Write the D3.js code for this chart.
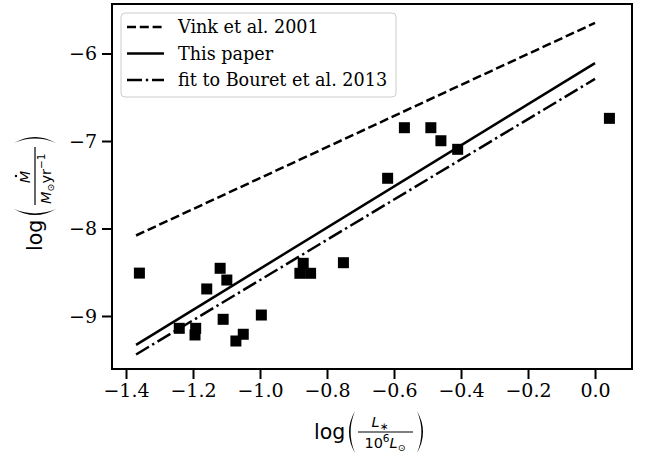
<!DOCTYPE html>
<html><head><meta charset="utf-8">
<script src="https://cdn.jsdelivr.net/npm/d3@7/dist/d3.min.js"></script>
<style>body{margin:0;background:#fff}svg{display:block}</style>
</head><body>
<svg id="c" width="647" height="457"></svg>
<script>
// ---- data ----
const logL = [-1.36,-1.119,-1.099,-1.159,-0.996,-1.110,-1.241,-1.192,-1.194,-1.050,-1.072,-0.871,-0.881,-0.849,-0.751,-0.619,-0.569,-0.490,-0.460,-0.410,0.043];
const logMdot = [-8.51,-8.455,-8.589,-8.691,-8.989,-9.038,-9.141,-9.141,-9.217,-9.209,-9.286,-8.398,-8.512,-8.512,-8.391,-7.426,-6.848,-6.848,-6.997,-7.095,-6.741];
const fitX = [-1.37, 0.0];
const vink = [-8.08, -5.65];
const thisPaper = [-9.33, -6.11];
const bouret = [-9.44, -6.29];
const seriesNames = ["Vink et al. 2001", "This paper", "fit to Bouret et al. 2013"];
const xTicks = [-1.4, -1.2, -1.0, -0.8, -0.6, -0.4, -0.2, 0.0];
const yTicks = [-9, -8, -7, -6];

// ---- layout ----
const L = 112, R = 632, T = 4, B = 369;
const svg = d3.select("#c");
const x = d3.scaleLinear().domain([-1.4418, 0.1104]).range([L, R]);
const y = d3.scaleLinear().domain([-9.606, -5.434]).range([B, T]);
const serif = "'DejaVu Serif', serif";
const sans = "'DejaVu Sans', sans-serif";
const fmt = v => d3.format(".1f")(v).replace("-", "\u2212");
const fmtY = v => d3.format("d")(v).replace("-", "\u2212");

const plot = svg.append("g");
plot.append("defs").append("clipPath").attr("id", "clip")
  .append("rect").attr("x", L).attr("y", T).attr("width", R - L).attr("height", B - T);

// lines
const series = [
  {name: seriesNames[0], vals: vink, dash: "9,3.8"},
  {name: seriesNames[1], vals: thisPaper, dash: null},
  {name: seriesNames[2], vals: bouret, dash: "15,3.8,2.4,3.8"}
];
const lineGen = d3.line().x(d => x(d[0])).y(d => y(d[1]));
const lg = plot.append("g").attr("clip-path", "url(#clip)");
series.forEach(s => {
  lg.append("path")
    .attr("d", lineGen(fitX.map((v, i) => [v, s.vals[i]])))
    .attr("fill", "none").attr("stroke", "#000").attr("stroke-width", 2.5)
    .attr("stroke-dasharray", s.dash);
});

// points
const ms = 11;
lg.selectAll("rect.pt").data(logL).enter().append("rect").attr("class", "pt")
  .attr("x", (d, i) => x(d) - ms / 2).attr("y", (d, i) => y(logMdot[i]) - ms / 2)
  .attr("width", ms).attr("height", ms).attr("fill", "#000");

// axes via d3 axis generators
const xAxis = d3.axisBottom(x).tickValues(xTicks).tickFormat(fmt).tickSize(10).tickPadding(5);
const yAxis = d3.axisLeft(y).tickValues(yTicks).tickFormat(fmtY).tickSize(10).tickPadding(5);
const gx = svg.append("g").attr("transform", `translate(0,${B})`).call(xAxis);
const gy = svg.append("g").attr("transform", `translate(${L},0)`).call(yAxis);
[gx, gy].forEach(g => {
  g.select(".domain").remove();
  g.selectAll(".tick line").attr("stroke", "#000").attr("stroke-width", 2);
  g.selectAll(".tick text").attr("fill", "#000").attr("font-family", serif).attr("font-size", 19);
});

// frame
svg.append("rect").attr("x", L).attr("y", T).attr("width", R - L).attr("height", B - T)
  .attr("fill", "none").attr("stroke", "#000").attr("stroke-width", 2);

// legend
const leg = svg.append("g");
leg.append("rect").attr("x", 121).attr("y", 13).attr("width", 275).attr("height", 84)
  .attr("rx", 4).attr("fill", "#fff").attr("fill-opacity", 0.8)
  .attr("stroke", "#cccccc").attr("stroke-width", 1);
series.forEach((s, i) => {
  const ry = 27 + i * 26.5;
  leg.append("line").attr("x1", 127).attr("x2", 164).attr("y1", ry).attr("y2", ry)
    .attr("stroke", "#000").attr("stroke-width", 2.5).attr("stroke-dasharray", s.dash);
  leg.append("text").attr("x", 178).attr("y", ry + 6).text(s.name)
    .attr("font-family", serif).attr("font-size", 17.6).attr("fill", "#000");
});

// paren helper: filled crescent
function paren(g, cx, cy, h, open, w) {
  const s = open ? 1 : -1;
  const a = cx + s * w / 2;
  const p = `M${a},${cy - h} Q${a - s * 2 * w},${cy} ${a},${cy + h} Q${a - s * (2 * w - 3)},${cy} ${a},${cy + h * 0} ${a},${cy - h} Z`;
  g.append("path").attr("d", `M${a},${cy - h} Q${a - s * 2 * w},${cy} ${a},${cy + h} Q${a - s * (2 * w - 3.2)},${cy} ${a},${cy - h} Z`).attr("fill", "#000");
}

// x label
{
  const g = svg.append("g").attr("transform", "translate(372,432)");
  g.append("text").attr("x", -58).attr("y", 7).text("log")
    .attr("font-family", sans).attr("font-size", 20.5).attr("text-anchor", "start");
  paren(g, -20, 0, 21, true, 6);
  // numerator
  const num = g.append("text").attr("x", 8).attr("y", -5).attr("font-family", sans).attr("font-size", 14.5).attr("text-anchor", "middle");
  num.append("tspan").attr("font-style", "italic").text("L");
  num.append("tspan").attr("font-size", 10.5).attr("dy", 3).text("\u2217");
  g.append("line").attr("x1", -14).attr("x2", 41).attr("y1", 0).attr("y2", 0).attr("stroke", "#000").attr("stroke-width", 1.2);
  const den = g.append("text").attr("x", 13).attr("y", 16).attr("font-family", sans).attr("font-size", 14.5).attr("text-anchor", "middle");
  den.append("tspan").text("10");
  den.append("tspan").attr("font-size", 10.5).attr("dy", -6).text("6");
  den.append("tspan").attr("dy", 6).attr("font-style", "italic").text("L");
  den.append("tspan").attr("font-size", 9.5).attr("dy", 3).text("\u2299");
  paren(g, 48, 0, 21, false, 6);
}

// y label
{
  const g = svg.append("g").attr("transform", "translate(35,188) rotate(-90)");
  g.append("text").attr("x", -63).attr("y", 7).text("log")
    .attr("font-family", sans).attr("font-size", 20.5);
  paren(g, -24, 0, 21, true, 6);
  // numerator Mdot
  g.append("text").attr("x", 11).attr("y", -5).attr("font-family", sans).attr("font-size", 14.5)
    .attr("font-style", "italic").attr("text-anchor", "middle").text("M");
  g.append("circle").attr("cx", 12).attr("cy", -19).attr("r", 1.2).attr("fill", "#000");
  g.append("line").attr("x1", -17).attr("x2", 41).attr("y1", 0).attr("y2", 0).attr("stroke", "#000").attr("stroke-width", 1.2);
  const den = g.append("text").attr("x", -16).attr("y", 16).attr("font-family", sans).attr("font-size", 14.5);
  den.append("tspan").attr("font-style", "italic").text("M");
  den.append("tspan").attr("font-size", 9.5).attr("dy", 3).text("\u2299");
  den.append("tspan").attr("dy", -3).text("yr");
  den.append("tspan").attr("font-size", 10.5).attr("dy", -6).text("\u22121");
  paren(g, 48, 0, 21, false, 6);
}
</script>
</body></html>
